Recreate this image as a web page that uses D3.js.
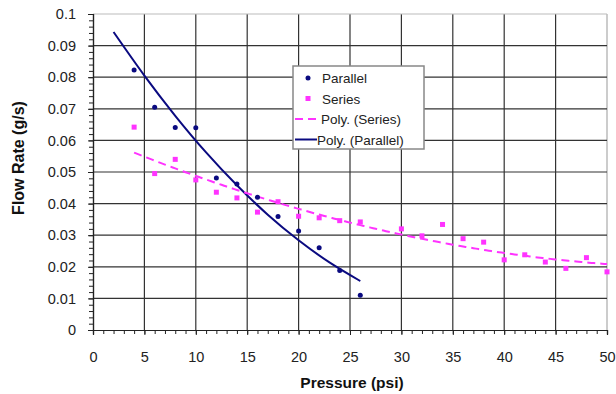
<!DOCTYPE html>
<html>
<head>
<meta charset="utf-8">
<script src="https://cdn.jsdelivr.net/npm/d3@7"></script>
<style>
  body { margin: 0; background: #fff; }
  svg text { font-family: "Liberation Sans", Arial, sans-serif; }
</style>
</head>
<body>
<div id="chart"></div>
<script>
// data
const parallelPressure = [4, 6, 8, 10, 12, 14, 16, 18, 20, 22, 24, 26];
const parallelFlow = [0.0823, 0.0705, 0.0641, 0.064, 0.0481, 0.0462, 0.042, 0.0359, 0.0313, 0.026, 0.0188, 0.011];
const seriesPressure = [4, 6, 8, 10, 12, 14, 16, 18, 20, 22, 24, 26, 30, 32, 34, 36, 38, 40, 42, 44, 46, 48, 50];
const seriesFlow = [0.0642, 0.0495, 0.054, 0.0475, 0.0436, 0.0418, 0.0373, 0.0406, 0.036, 0.0355, 0.0346, 0.0342, 0.032, 0.0298, 0.0334, 0.0289, 0.0278, 0.0222, 0.0238, 0.0215, 0.0195, 0.0229, 0.0184];
// trendline of the parallel set
const parallelTrendX = [2, 5, 8, 11, 14, 17, 20, 23, 26];
const parallelTrendY = [0.0943, 0.0805, 0.0678, 0.0562, 0.0458, 0.0365, 0.0284, 0.0214, 0.0155];
const xTicks = [0, 5, 10, 15, 20, 25, 30, 35, 40, 45, 50];
const yTicks = [0, 0.01, 0.02, 0.03, 0.04, 0.05, 0.06, 0.07, 0.08, 0.09, 0.1];
const legendLabels = ["Parallel", "Series", "Poly. (Series)", "Poly. (Parallel)"];

const W = 616, H = 394;
const margin = {top: 14, right: 9, bottom: 64, left: 93};
const width = W - margin.left - margin.right;
const height = H - margin.top - margin.bottom;

const navy = "#0a0a80", pink = "#ff33ff";

// 2nd order least squares fit, like the spreadsheet trendline
function polyFit(xs, ys) {
    let s = [0, 0, 0, 0, 0], t = [0, 0, 0];
    xs.forEach((x, i) => {
        for (let k = 0; k < 5; k++) s[k] += Math.pow(x, k);
        for (let k = 0; k < 3; k++) t[k] += ys[i] * Math.pow(x, k);
    });
    let A = [[s[0], s[1], s[2], t[0]], [s[1], s[2], s[3], t[1]], [s[2], s[3], s[4], t[2]]];
    for (let i = 0; i < 3; i++) {
        for (let j = i + 1; j < 3; j++) {
            let f = A[j][i] / A[i][i];
            for (let k = i; k < 4; k++) A[j][k] -= f * A[i][k];
        }
    }
    let c = [0, 0, 0];
    for (let i = 2; i >= 0; i--) {
        let v = A[i][3];
        for (let k = i + 1; k < 3; k++) v -= A[i][k] * c[k];
        c[i] = v / A[i][i];
    }
    return x => c[0] + c[1] * x + c[2] * x * x;
}

let svg = d3.select("#chart").append("svg")
    .attr("width", W)
    .attr("height", H)
    .append("g")
    .attr("transform", "translate(" + margin.left + "," + margin.top + ")");

let xScale = d3.scaleLinear().domain([0, 50]).range([0, width]);
let yScale = d3.scaleLinear().domain([0, 0.1]).range([height, 0]);

// grid
svg.append("g").selectAll("line")
    .data(xTicks.slice(1))
    .enter().append("line")
    .attr("x1", d => xScale(d)).attr("x2", d => xScale(d))
    .attr("y1", 0).attr("y2", height)
    .attr("stroke", d => d === 50 ? "#aaa" : "#333")
    .attr("stroke-width", 1.2);
svg.append("g").selectAll("line")
    .data(yTicks.slice(1))
    .enter().append("line")
    .attr("x1", 0).attr("x2", width)
    .attr("y1", d => yScale(d)).attr("y2", d => yScale(d))
    .attr("stroke", d => d === 0.1 ? "#bbb" : "#333")
    .attr("stroke-width", 1.2);

// axes
let xAxis = d3.axisBottom(xScale).tickValues(xTicks).tickSize(5).tickFormat(d3.format("d"));
let xMinor = d3.axisBottom(xScale).tickValues(d3.range(0, 51, 1)).tickSize(4).tickFormat("");
let yAxis = d3.axisLeft(yScale).tickValues(yTicks).tickSize(5).tickPadding(12)
    .tickFormat(d => d === 0 ? "0" : d3.format(".2~f")(d));
let yMinor = d3.axisLeft(yScale).tickValues(d3.range(0, 0.1001, 0.002)).tickSize(4).tickFormat("");

svg.append("g").attr("transform", "translate(0," + height + ")").call(xMinor);
let gx = svg.append("g").attr("transform", "translate(0," + height + ")").call(xAxis);
svg.append("g").call(yMinor);
let gy = svg.append("g").call(yAxis);

svg.selectAll(".domain").attr("stroke", "#222").attr("stroke-width", 1.2);
svg.selectAll(".tick line").attr("stroke", "#222");
svg.selectAll(".tick text").attr("fill", "#222").style("font-size", "14.5px");
gx.selectAll(".tick text").attr("y", 22).attr("dy", "0.71em");

// axis labels
svg.append("text")
    .attr("text-anchor", "middle")
    .attr("x", width / 2 + 2)
    .attr("y", height + 58)
    .style("font-size", "15.5px").style("font-weight", "bold")
    .attr("fill", "#111")
    .text("Pressure (psi)");
svg.append("text")
    .attr("text-anchor", "middle")
    .attr("transform", "rotate(-90)")
    .attr("x", -(158 - margin.top))
    .attr("y", -69)
    .style("font-size", "16px").style("font-weight", "bold")
    .attr("fill", "#111")
    .text("Flow Rate (g/s)");

// trendlines
let fitS = polyFit(seriesPressure, seriesFlow);
svg.append("path")
    .datum(parallelTrendX)
    .attr("fill", "none")
    .attr("stroke", navy)
    .attr("stroke-width", 2)
    .attr("d", d3.line().curve(d3.curveNatural).x(d => xScale(d)).y((d, i) => yScale(parallelTrendY[i])));
svg.append("path")
    .datum(d3.range(4, 50.01, 0.25))
    .attr("fill", "none")
    .attr("stroke", pink)
    .attr("stroke-width", 2)
    .attr("stroke-dasharray", "8,5")
    .attr("d", d3.line().x(d => xScale(d)).y(d => yScale(fitS(d))));

// points
svg.selectAll(".sq")
    .data(seriesPressure)
    .enter().append("rect")
    .attr("x", d => xScale(d) - 2.5)
    .attr("y", (d, i) => yScale(seriesFlow[i]) - 2.5)
    .attr("width", 5).attr("height", 5)
    .attr("fill", pink);
svg.selectAll(".dot")
    .data(parallelPressure)
    .enter().append("circle")
    .attr("cx", d => xScale(d))
    .attr("cy", (d, i) => yScale(parallelFlow[i]))
    .attr("r", 2.5)
    .attr("fill", navy);

// legend
let lg = svg.append("g").attr("transform", "translate(" + (293 - margin.left) + "," + (66 - margin.top) + ")");
lg.append("rect")
    .attr("width", 131).attr("height", 83)
    .attr("fill", "#fff").attr("stroke", "#888").attr("stroke-width", 1.5);
legendLabels.forEach((t, i) => {
    let y = 12 + i * 20.5;
    if (i === 0) lg.append("circle").attr("cx", 15).attr("cy", y).attr("r", 2.5).attr("fill", navy);
    if (i === 1) lg.append("rect").attr("x", 12.5).attr("y", y - 2.5).attr("width", 5).attr("height", 5).attr("fill", pink);
    if (i === 2) lg.append("line").attr("x1", 2).attr("x2", 28).attr("y1", y).attr("y2", y)
        .attr("stroke", pink).attr("stroke-width", 2).attr("stroke-dasharray", "8,5");
    if (i === 3) lg.append("line").attr("x1", 2).attr("x2", 24).attr("y1", y).attr("y2", y)
        .attr("stroke", navy).attr("stroke-width", 2);
    lg.append("text")
        .attr("x", i < 2 ? 29 : (i === 2 ? 28 : 24))
        .attr("y", y + 5)
        .style("font-size", "13.5px")
        .attr("fill", "#222")
        .text(t);
});
</script>
</body>
</html>
